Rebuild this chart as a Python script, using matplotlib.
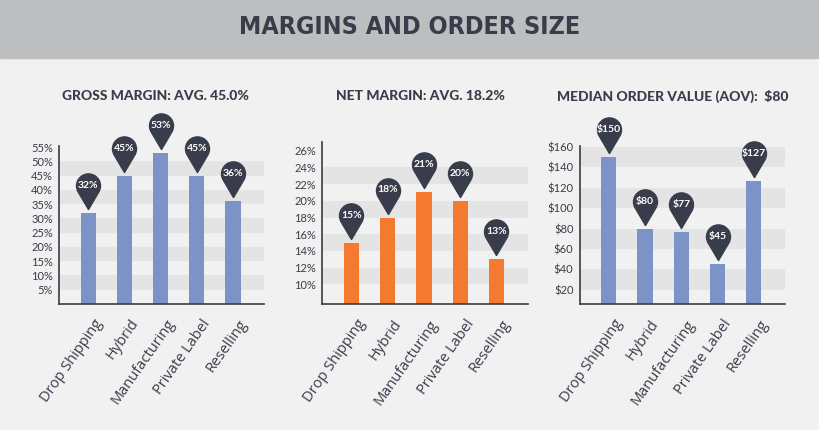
import numpy as np
import matplotlib
matplotlib.use('Agg')
import matplotlib.pyplot as plt
import matplotlib.path as mpath
from matplotlib.markers import MarkerStyle
from matplotlib import rcParams

rcParams.update({"font.family": ['Lato', 'DejaVu Sans']})

# data
categories = ['Drop Shipping', 'Hybrid', 'Manufacturing', 'Private Label', 'Reselling']
gross_margin = [32, 45, 53, 45, 36]
net_margin = [15, 18, 21, 20, 13]
order_value = [150, 80, 77, 45, 127]
gross_ticks = [5, 10, 15, 20, 25, 30, 35, 40, 45, 50, 55]
net_ticks = [10, 12, 14, 16, 18, 20, 22, 24, 26]
aov_ticks = [20, 40, 60, 80, 100, 120, 140, 160]

BG = '#f1f1f1'
BAND = '#e4e4e4'
DARK = '#393c4a'
BLUE = '#7b93c6'
ORANGE = '#f47a30'

# pin shaped marker, tip near the origin so it sits just above the bar
R = 1.0
cy = 2.3
tip = 0.33
alpha = np.degrees(np.arccos(R / (cy - tip)))
arc = mpath.Path.arc(-90 + alpha, 270 - alpha)
verts = np.vstack([arc.vertices * R + [0, cy], [[0, tip], [0, tip]]])
codes = list(arc.codes) + [mpath.Path.LINETO, mpath.Path.CLOSEPOLY]
pin = MarkerStyle(mpath.Path(verts, codes))
r_pt = 12 * 0.72
pin_size = 2 * (cy + R) * r_pt

fig = plt.figure(figsize=(8.19, 4.30), dpi=100)
fig.patch.set_facecolor(BG)

# header strip
fig.patches.append(plt.Rectangle((0, 0.866), 1, 0.134, transform=fig.transFigure,
                                 color='#bdbec0', zorder=0))
fig.text(0.5, 0.937, 'MARGINS AND ORDER SIZE', ha='center', va='center',
         fontsize=18, fontweight='bold', fontstretch='condensed', color=DARK,
         family=['DejaVu Sans'])


def panel(rect, vals, labels, color, ticks, fmt, ylim, bands, title, title_x):
    ax = fig.add_axes(rect)
    ax.set_facecolor(BG)
    x = np.arange(len(vals))
    for lo, hi in bands:
        ax.axhspan(lo, hi, color=BAND, lw=0, zorder=0)
    ax.bar(x, vals, width=0.42, color=color, zorder=2)
    ax.plot(x, vals, linestyle='none', marker=pin, markersize=pin_size,
            color=DARK, clip_on=False, zorder=3)
    for xi, v, lab in zip(x, vals, labels):
        ax.annotate(lab, (xi, v), xytext=(0, cy * r_pt), textcoords='offset points',
                    ha='center', va='center', color='white', fontsize=7.5,
                    fontweight='bold', zorder=4, annotation_clip=False)
    for xi, c in zip(x, categories):
        ax.annotate(c, (xi, 0), xycoords=('data', 'axes fraction'),
                    xytext=(8, -12), textcoords='offset points', rotation=55,
                    rotation_mode='anchor', ha='right', va='center',
                    fontsize=10.5, color=DARK, annotation_clip=False,
                    family=['Open Sans', 'DejaVu Sans'])
    ax.set_xlim(-0.8, 4.86)
    ax.set_ylim(*ylim)
    ax.set_xticks([])
    ax.set_yticks(ticks)
    ax.set_yticklabels([fmt(t) for t in ticks], fontsize=8, color=DARK)
    ax.tick_params(axis='y', length=0, pad=4.5)
    for s in ['top', 'right']:
        ax.spines[s].set_visible(False)
    for s in ['left', 'bottom']:
        ax.spines[s].set_color(DARK)
        ax.spines[s].set_linewidth(1.2)
    fig.text(title_x, 0.776, title, ha='center', va='center', fontsize=10,
             fontweight='black', color=DARK)
    return ax


panel([0.0724, 0.293, 0.25, 0.368], gross_margin, [f'{v}%' for v in gross_margin],
      BLUE, gross_ticks, lambda t: f'{t}%', (0, 55.5),
      [(5, 10), (15, 20), (25, 30), (35, 40), (45, 50)],
      'GROSS MARGIN: AVG. 45.0%', 155 / 819)
panel([0.3935, 0.292, 0.2508, 0.377], net_margin, [f'{v}%' for v in net_margin],
      ORANGE, net_ticks, lambda t: f'{t}%', (7.6, 27),
      [(10, 12), (14, 16), (18, 20), (22, 24)],
      'NET MARGIN: AVG. 18.2%', 420 / 819)
panel([0.7078, 0.292, 0.2507, 0.369], order_value, [f'${v}' for v in order_value],
      BLUE, aov_ticks, lambda t: f'${t}', (5.7, 161.3),
      [(20, 40), (60, 80), (100, 120), (140, 160)],
      'MEDIAN ORDER VALUE (AOV):  $80', 673 / 819)

fig.savefig('out.png', dpi=100, facecolor=fig.get_facecolor())
